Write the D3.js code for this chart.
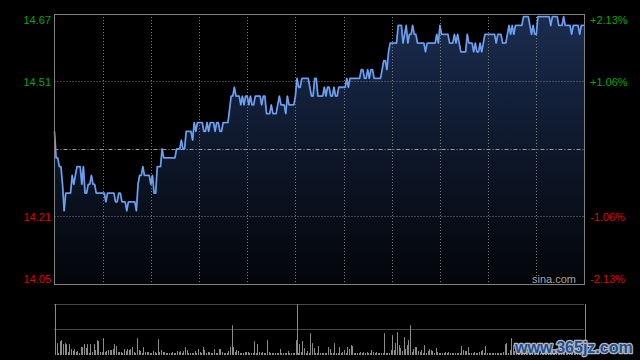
<!DOCTYPE html>
<html><head><meta charset="utf-8">
<script src="https://cdn.jsdelivr.net/npm/d3@7/dist/d3.min.js"></script>
<style>body{margin:0;background:#000;}svg{display:block}</style>
</head><body>
<script>
// ---- data ----
const prevClose = 14.36;
const priceTicks = [14.666, 14.513, 14.207, 14.054];
const priceLabels = ["14.67", "14.51", "14.21", "14.05"];
const pctLabels = ["+2.13%", "+1.06%", "-1.06%", "-2.13%"];
const timeGridIdx = [30, 60, 90, 120, 150, 180, 210, 240, 270, 300];
const lunchIdx = 151;
const prices = [
14.40,14.34,14.34,14.32,14.32,14.28,14.22,14.26,14.26,14.26,
14.26,14.30,14.28,14.30,14.32,14.32,14.32,14.28,14.32,14.26,
14.26,14.28,14.28,14.30,14.28,14.28,14.26,14.26,14.26,14.26,
14.26,14.26,14.24,14.26,14.26,14.26,14.26,14.26,14.24,14.24,
14.26,14.26,14.24,14.24,14.24,14.22,14.24,14.24,14.24,14.24,
14.24,14.22,14.28,14.30,14.30,14.32,14.30,14.30,14.30,14.30,
14.28,14.30,14.26,14.26,14.32,14.32,14.32,14.36,14.34,14.34,
14.34,14.34,14.34,14.34,14.34,14.34,14.36,14.36,14.36,14.38,
14.36,14.36,14.40,14.40,14.40,14.40,14.38,14.42,14.40,14.42,
14.42,14.42,14.42,14.40,14.40,14.42,14.40,14.42,14.42,14.42,
14.40,14.42,14.42,14.40,14.40,14.42,14.42,14.42,14.42,14.45,
14.48,14.48,14.50,14.48,14.48,14.48,14.46,14.48,14.46,14.48,
14.48,14.46,14.48,14.46,14.46,14.48,14.48,14.48,14.48,14.46,
14.48,14.48,14.44,14.44,14.44,14.46,14.44,14.44,14.44,14.46,
14.48,14.46,14.46,14.46,14.44,14.48,14.46,14.46,14.46,14.46,
14.48,14.52,14.50,14.50,14.52,14.52,14.52,14.52,14.52,14.50,
14.48,14.48,14.52,14.52,14.48,14.48,14.48,14.48,14.50,14.48,
14.50,14.50,14.48,14.48,14.50,14.48,14.48,14.50,14.50,14.50,
14.50,14.50,14.52,14.50,14.52,14.52,14.52,14.52,14.52,14.52,
14.52,14.54,14.54,14.52,14.52,14.54,14.52,14.54,14.54,14.52,
14.52,14.52,14.52,14.52,14.54,14.56,14.56,14.54,14.58,14.60,
14.60,14.60,14.60,14.60,14.64,14.64,14.64,14.60,14.62,14.64,
14.60,14.62,14.62,14.64,14.62,14.62,14.60,14.60,14.60,14.60,
14.60,14.58,14.60,14.60,14.60,14.60,14.60,14.60,14.62,14.60,
14.64,14.62,14.62,14.62,14.62,14.62,14.60,14.60,14.60,14.62,
14.60,14.62,14.60,14.58,14.58,14.58,14.58,14.62,14.60,14.60,
14.60,14.58,14.60,14.58,14.58,14.60,14.58,14.60,14.62,14.62,
14.62,14.62,14.62,14.62,14.62,14.60,14.62,14.62,14.62,14.60,
14.60,14.60,14.62,14.64,14.62,14.64,14.62,14.64,14.64,14.64,
14.64,14.64,14.66,14.66,14.66,14.66,14.64,14.62,14.64,14.62,
14.62,14.66,14.66,14.66,14.66,14.66,14.66,14.66,14.66,14.64,
14.66,14.66,14.66,14.66,14.64,14.64,14.64,14.66,14.64,14.64,
14.64,14.64,14.62,14.64,14.64,14.64,14.64,14.62,14.64,14.64,
14.64];
const volumes = [
240,110,10,130,140,100,110,100,20,100,
50,30,50,20,30,10,70,70,100,60,
100,10,100,20,100,40,140,130,20,20,
160,20,30,40,40,40,50,100,80,20,
20,20,10,50,30,50,40,50,70,20,
10,160,40,30,10,70,20,20,20,10,
10,30,20,10,150,20,40,20,20,10,
10,10,10,20,10,10,30,20,30,10,
30,70,40,10,10,10,10,30,10,50,
20,10,70,40,10,20,20,10,10,50,
10,10,50,50,20,10,10,10,30,70,
290,70,20,40,30,10,10,10,20,20,
20,10,10,10,130,10,100,20,10,20,
10,10,140,20,10,10,10,10,10,10,
50,10,10,10,10,30,10,10,10,10,
140,10,100,20,130,60,10,30,10,210,
110,60,10,10,80,10,10,10,10,10,
70,50,10,10,110,10,10,70,10,20,
40,10,70,50,90,80,10,10,10,10,
20,10,20,10,20,10,10,40,20,10,
20,10,10,10,10,210,10,10,10,40,
190,40,110,220,90,60,30,170,50,90,
140,290,20,50,70,70,30,20,40,10,
90,10,30,50,40,30,10,60,20,10,
10,10,10,20,10,20,10,10,10,10,
10,10,10,80,40,30,30,70,10,10,
10,20,10,10,20,30,40,10,80,10,
10,10,10,10,10,10,10,10,10,20,
100,110,10,40,160,90,30,20,50,10,
20,60,10,20,30,10,20,40,10,20,
10,30,10,20,10,20,50,10,20,10,
30,10,20,10,40,10,20,60,10,20,
10,30,10,20,10,50,20,10,30,20,
40];

// ---- chart ----
const W = 640, H = 360;
const svg = d3.select("body").append("svg").attr("width", W).attr("height", H)
  .style("background", "#000");
const font = "'Liberation Sans', Arial, sans-serif";

const x = d3.scaleLinear().domain([0, 330]).range([54.5, 584.5]);
const y = d3.scaleLinear().domain([14.054, 14.666]).range([284, 14]);
const yv = d3.scaleLinear().domain([0, 500]).range([354, 304.5]);

const defs = svg.append("defs");
const grad = defs.append("linearGradient").attr("id", "ag")
  .attr("gradientUnits", "userSpaceOnUse").attr("x1", 0).attr("y1", 14).attr("x2", 0).attr("y2", 284);
grad.append("stop").attr("offset", 0).attr("stop-color", "#1b2c4f");
grad.append("stop").attr("offset", 0.5).attr("stop-color", "#0e182b");
grad.append("stop").attr("offset", 1).attr("stop-color", "#030508");

// area
const area = d3.area().x((d, i) => x(i)).y0(284).y1(d => y(d));
svg.append("path").datum(prices).attr("d", area).attr("fill", "url(#ag)");

const snap = v => Math.round(v) + 0.5;

// vertical grid
svg.append("g").selectAll("line").data(timeGridIdx).join("line")
  .attr("x1", d => snap(x(d))).attr("x2", d => snap(x(d)))
  .attr("y1", 14).attr("y2", 284)
  .attr("stroke", "#7a7a7a").attr("stroke-width", 1).attr("stroke-dasharray", "1,2");

// horizontal grid (inner ticks)
svg.append("g").selectAll("line").data([priceTicks[1], priceTicks[2]]).join("line")
  .attr("x1", 54.5).attr("x2", 584.5)
  .attr("y1", d => snap(y(d) - 0.5)).attr("y2", d => snap(y(d) - 0.5))
  .attr("stroke", "#7a7a7a").attr("stroke-width", 1).attr("stroke-dasharray", "1,2");

// previous close
svg.append("line")
  .attr("x1", 54.5).attr("x2", 584.5)
  .attr("y1", snap(y(prevClose) - 0.5)).attr("y2", snap(y(prevClose) - 0.5))
  .attr("stroke", "#9a9a9a").attr("stroke-width", 1).attr("stroke-dasharray", "4,2,1,2");

// price line
const line = d3.line().x((d, i) => x(i)).y(d => y(d));
svg.append("path").datum(prices).attr("d", line)
  .attr("fill", "none").attr("stroke", "#4f86dc").attr("stroke-width", 1.8)
  .attr("stroke-linejoin", "round");
svg.append("path").datum(prices).attr("d", line)
  .attr("fill", "none").attr("stroke", "#86b2f2").attr("stroke-width", 0.7)
  .attr("stroke-linejoin", "round");

// frame
svg.append("rect").attr("x", 54.5).attr("y", 14.5).attr("width", 530).attr("height", 270)
  .attr("fill", "none").attr("stroke", "#808080").attr("stroke-width", 1);

// labels
const dys = [10, 4, 4, -1];
const colors = ["#00a800", "#00a800", "#e00000", "#e00000"];
svg.append("g").selectAll("text").data(priceTicks).join("text")
  .attr("x", 51).attr("y", (d, i) => y(d) + dys[i])
  .attr("text-anchor", "end").attr("font-family", font).attr("font-size", 11)
  .attr("fill", (d, i) => colors[i]).text((d, i) => priceLabels[i]);
svg.append("g").selectAll("text").data(priceTicks).join("text")
  .attr("x", 590).attr("y", (d, i) => y(d) + dys[i])
  .attr("text-anchor", "start").attr("font-family", font).attr("font-size", 11)
  .attr("fill", (d, i) => colors[i]).text((d, i) => pctLabels[i]);

svg.append("text").attr("x", 532).attr("y", 283).attr("font-family", font)
  .attr("font-size", 11).attr("fill", "#a8a8a8").attr("stroke", "#000").attr("stroke-width", 2)
  .attr("paint-order", "stroke").text("sina.com");

// volume panel
svg.append("g").selectAll("line").data([500, 250]).join("line")
  .attr("x1", 54.5).attr("x2", 584.5)
  .attr("y1", d => snap(yv(d) - 0.5)).attr("y2", d => snap(yv(d) - 0.5))
  .attr("stroke", "#8a8a8a").attr("stroke-width", 1).attr("stroke-dasharray", "1,1");
svg.append("g").selectAll("line").data([0, lunchIdx, 330]).join("line")
  .attr("x1", d => snap(x(d))).attr("x2", d => snap(x(d)))
  .attr("y1", 304).attr("y2", 355)
  .attr("stroke", "#8a8a8a").attr("stroke-width", 1);
svg.append("g").selectAll("rect").data(volumes).join("rect")
  .attr("x", (d, i) => Math.floor(x(i)) + 1).attr("width", 1)
  .attr("y", d => yv(d)).attr("height", d => yv(0) - yv(d) + 1)
  .attr("fill", "#8c8c8c");

// watermark
svg.append("text").attr("x", 515).attr("y", 353)
  .attr("font-family", font).attr("font-weight", "bold").attr("font-size", 16)
  .attr("fill", "#1f4f98").attr("stroke", "#b8b8b8").attr("stroke-width", 2.5)
  .attr("paint-order", "stroke").attr("stroke-linejoin", "round")
  .text("www.365jz.com");
</script>
</body></html>
